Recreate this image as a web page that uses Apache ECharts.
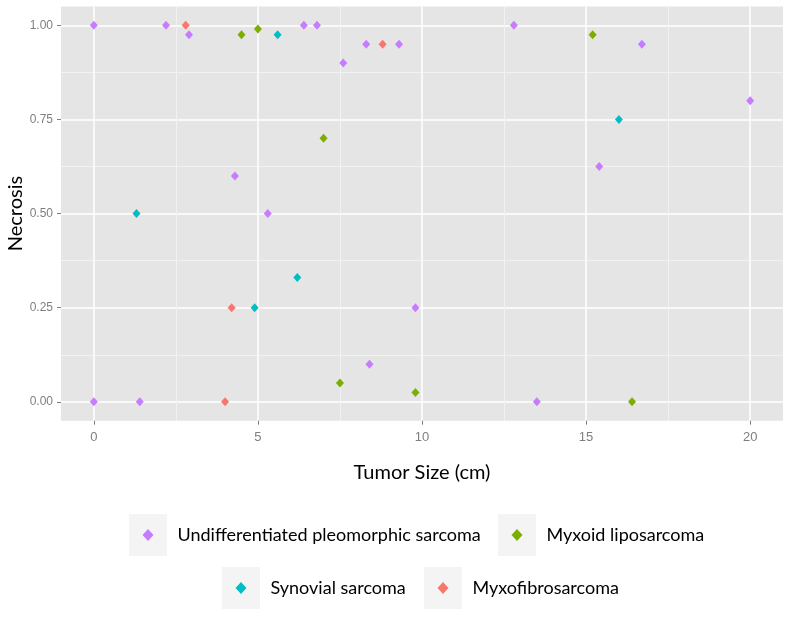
<!DOCTYPE html>
<html>
<head>
<meta charset="utf-8">
<script src="https://cdn.jsdelivr.net/npm/echarts@6/dist/echarts.min.js"></script>
<style>html,body{margin:0;padding:0;background:#fff}#c{width:791px;height:620px}</style>
</head>
<body>
<div id="c"></div>
<script>
const seriesNames = ['Undifferentiated pleomorphic sarcoma', 'Myxoid liposarcoma', 'Synovial sarcoma', 'Myxofibrosarcoma'];
const upsX = [0, 2.2, 2.9, 4.3, 5.3, 6.4, 6.8, 7.6, 8.3, 9.3, 12.8, 16.7, 20, 15.4, 0, 1.4, 8.4, 9.8, 13.5];
const upsY = [1, 1, 0.975, 0.6, 0.5, 1, 1, 0.9, 0.95, 0.95, 1, 0.95, 0.8, 0.625, 0, 0, 0.1, 0.25, 0];
const myxoidX = [4.5, 5.0, 7.0, 15.2, 7.5, 9.8, 16.4];
const myxoidY = [0.975, 0.99, 0.7, 0.975, 0.05, 0.025, 0];
const synovialX = [1.3, 4.9, 5.6, 6.2, 16.0];
const synovialY = [0.5, 0.25, 0.975, 0.33, 0.75];
const myxofibX = [2.8, 4.0, 4.2, 8.8];
const myxofibY = [1, 0, 0.25, 0.95];
const xTicks = [0, 5, 10, 15, 20];
const xMinor = [2.5, 7.5, 12.5, 17.5];
const yTicks = [0, 0.25, 0.5, 0.75, 1];
const yMinor = [0.125, 0.375, 0.625, 0.875];
const colors = ['#C77CFF', '#7CAE00', '#00BFC4', '#F8766D'];

const pairs = (xs, ys) => xs.map((x, i) => [x, ys[i]]);
const seriesData = [pairs(upsX, upsY), pairs(myxoidX, myxoidY), pairs(synovialX, synovialY), pairs(myxofibX, myxofibY)];

const chart = echarts.init(document.getElementById('c'), null, {renderer: 'canvas'});
const labelFont = "'Liberation Sans', Arial, sans-serif";
const textFont = 'Lato';

const legendPos = [
  {cx: 148, cy: 535},
  {cx: 517, cy: 535},
  {cx: 241, cy: 588},
  {cx: 443, cy: 588}
];
const iw = 11, ih = 12, lh = 24;
const legends = seriesNames.map((n, i) => ({
  data: [n],
  left: legendPos[i].cx - iw / 2,
  top: legendPos[i].cy - lh / 2,
  padding: 0,
  icon: 'diamond',
  itemWidth: iw,
  itemHeight: ih,
  textStyle: {fontFamily: textFont, fontSize: 18, color: '#000', lineHeight: lh, padding: [0, 0, 0, 19]}
}));

const boxes = legendPos.map(p => ({
  type: 'rect', z: -1,
  shape: {x: p.cx - 19, y: p.cy - 21, width: 38, height: 42},
  style: {fill: '#F4F4F4'}
}));

const gridLeft = 61, gridTop = 6.5, gridRight = 8, gridBottom = 199.3;

chart.setOption({
  animation: false,
  backgroundColor: '#fff',
  color: colors,
  graphic: boxes,
  legend: legends,
  grid: {left: gridLeft, top: gridTop, right: gridRight, bottom: gridBottom, show: true,
    backgroundColor: '#E5E5E5', borderWidth: 0, containLabel: false, outerBoundsMode: 'none'},
  xAxis: [{
    type: 'value', min: -1, max: 21,
    name: 'Tumor Size (cm)', nameLocation: 'middle', nameGap: 42, nameMoveOverlap: false,
    nameTextStyle: {fontFamily: textFont, fontSize: 20, color: '#000'},
    axisLine: {show: false, onZero: false},
    axisTick: {show: true, customValues: xTicks, length: 4, lineStyle: {color: '#7f7f7f'}},
    axisLabel: {customValues: xTicks, color: '#7f7f7f', fontFamily: labelFont, fontSize: 13, margin: 10},
    splitLine: {show: true, lineStyle: {color: '#ffffff', width: 1.5}}
  }, {
    type: 'value', min: -1, max: 21, position: 'bottom',
    axisLine: {show: false, onZero: false}, axisLabel: {show: false},
    axisTick: {show: false, customValues: xMinor},
    splitLine: {show: true, lineStyle: {color: '#F2F2F2', width: 1}}
  }],
  yAxis: [{
    type: 'value', min: -0.05, max: 1.05,
    name: 'Necrosis', nameLocation: 'middle', nameGap: 35, nameMoveOverlap: false,
    nameTextStyle: {fontFamily: textFont, fontSize: 20, color: '#000'},
    axisLine: {show: false, onZero: false},
    axisTick: {show: true, customValues: yTicks, length: 4, lineStyle: {color: '#7f7f7f'}},
    axisLabel: {customValues: yTicks, color: '#7f7f7f', fontFamily: labelFont, fontSize: 12, margin: 8,
      formatter: v => v.toFixed(2)},
    splitLine: {show: true, lineStyle: {color: '#ffffff', width: 1.5}}
  }, {
    type: 'value', min: -0.05, max: 1.05, position: 'left',
    axisLine: {show: false, onZero: false}, axisLabel: {show: false},
    axisTick: {show: false, customValues: yMinor},
    splitLine: {show: true, lineStyle: {color: '#F2F2F2', width: 1}}
  }],
  series: seriesNames.map((n, i) => ({
    name: n, type: 'scatter', xAxisIndex: 0, yAxisIndex: 0,
    symbol: 'diamond', symbolSize: [8, 9],
    itemStyle: {color: colors[i], opacity: 1},
    data: seriesData[i]
  }))
});
</script>
</body>
</html>
